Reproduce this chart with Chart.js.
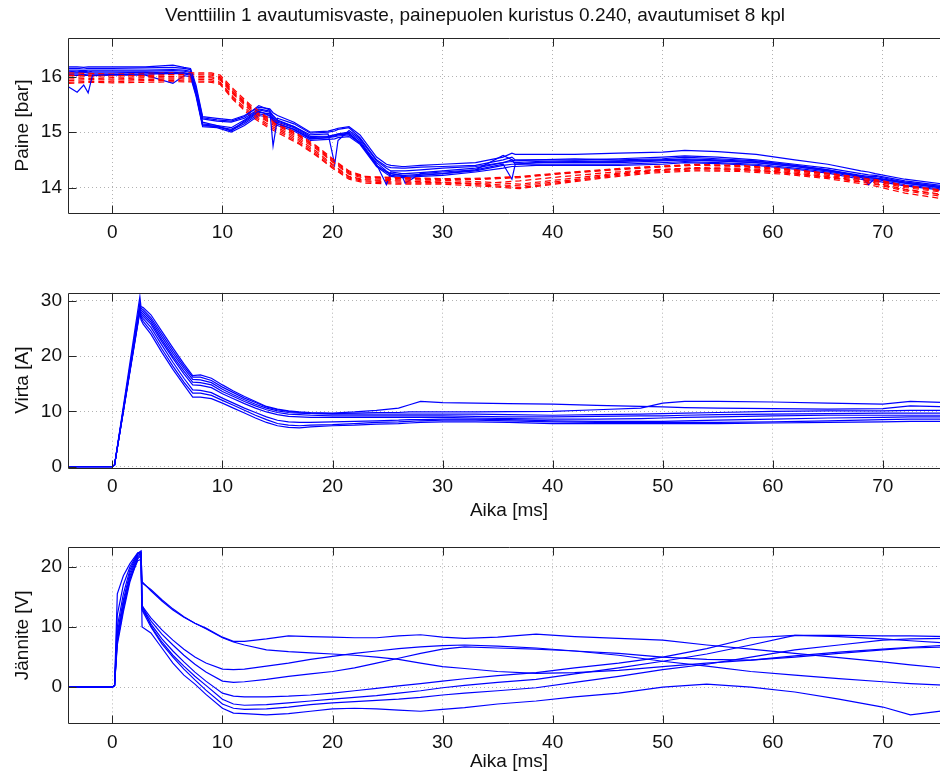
<!DOCTYPE html>
<html>
<head>
<meta charset="utf-8">
<script src="https://cdn.jsdelivr.net/npm/chart.js@4.4.0/dist/chart.umd.min.js"></script>
<style>
  html, body { margin: 0; padding: 0; background: #fff; overflow: hidden; }
  body { width: 940px; height: 775px; position: relative; }
  canvas { position: absolute; left: 0; }
</style>
</head>
<body>
<canvas id="paineChart" width="1020" height="250" style="top:0px"></canvas>
<canvas id="virtaChart" width="1020" height="280" style="top:250px"></canvas>
<canvas id="janniteChart" width="1020" height="245" style="top:530px"></canvas>
<script>
// --- data ---
const xTicks = [0, 10, 20, 30, 40, 50, 60, 70];
const paineTicks = [14, 15, 16];
const virtaTicks = [0, 10, 20, 30];
const janniteTicks = [0, 10, 20];

// Paine, blue runs (solid)
const tPaineBlue = [-4, -3.2, -2.6, -2.2, -1.8, 0, 3, 5.5, 6.5, 7.1,
    7.6, 8.2, 9.5, 10.8, 12, 13.3, 14.3, 14.6, 15, 16.5,
    18, 19.6, 20.2, 20.5, 21.5, 22.5, 24, 24.9, 25.3, 26.3,
    26.6, 28, 30, 33, 35.5, 36.3, 36.6, 38.5, 42, 46,
    50, 52, 55, 58.5, 62, 65, 68, 68.7, 69.3, 72,
    76];
const paineB1 = [15.82, 15.72, 15.85, 15.71, 16.03, 16.04, 16.05, 16.06, 16.07, 16.05,
    15.7, 15.18, 15.12, 15.02, 15.2, 15.38, 15.3, 15.22, 15.15, 15.05,
    14.88, 14.9, 14.95, 14.96, 14.98, 14.8, 14.45, 14.3, 14.25, 14.22,
    14.22, 14.24, 14.25, 14.3, 14.4, 14.42, 14.42, 14.45, 14.47, 14.48,
    14.5, 14.5, 14.48, 14.45, 14.38, 14.3, 14.2, 14.18, 14.17, 14.1,
    14.0];
const paineB2 = [16.18, 16.18, 16.17, 16.18, 16.18, 16.18, 16.18, 16.21, 16.17, 16.15,
    15.85, 15.28, 15.25, 15.22, 15.3, 15.45, 15.42, 15.35, 15.3, 15.18,
    15.0, 15.02, 15.05, 15.07, 15.1, 14.95, 14.55, 14.42, 14.4, 14.38,
    14.38, 14.4, 14.42, 14.45, 14.55, 14.62, 14.6, 14.6, 14.6, 14.62,
    14.64, 14.67, 14.65, 14.6, 14.5, 14.42, 14.3, 14.28, 14.25, 14.15,
    14.05];
const paineB3 = [16.15, 16.15, 16.14, 16.15, 16.15, 16.15, 16.16, 16.17, 16.15, 16.13,
    15.8, 15.26, 15.22, 15.2, 15.28, 15.48, 15.4, 14.75, 15.25, 15.15,
    14.98, 15.0, 15.02, 15.05, 15.08, 14.9, 14.5, 14.38, 14.36, 14.35,
    14.35, 14.37, 14.38, 14.4, 14.5, 14.55, 14.5, 14.5, 14.5, 14.52,
    14.55, 14.57, 14.55, 14.5, 14.42, 14.35, 14.25, 14.23, 14.22, 14.12,
    14.02];
const paineB4 = [16.12, 16.12, 16.11, 16.12, 16.12, 16.12, 16.12, 16.13, 16.12, 16.1,
    15.75, 15.24, 15.2, 15.18, 15.25, 15.42, 15.38, 15.3, 15.22, 15.1,
    14.95, 14.97, 14.42, 14.85, 15.03, 14.88, 14.48, 14.35, 14.3, 14.3,
    14.3, 14.32, 14.35, 14.38, 14.45, 14.5, 14.48, 14.5, 14.52, 14.5,
    14.52, 14.55, 14.52, 14.48, 14.4, 14.32, 14.22, 14.2, 14.2, 14.1,
    14.0];
const paineB5 = [16.1, 16.09, 16.1, 16.09, 16.1, 16.1, 16.1, 16.11, 16.1, 16.08,
    15.72, 15.15, 15.12, 15.08, 15.22, 15.4, 15.36, 15.28, 15.2, 15.1,
    14.92, 14.93, 14.95, 14.97, 15.0, 14.85, 14.42, 14.05, 14.28, 14.25,
    14.25, 14.27, 14.3, 14.35, 14.45, 14.47, 14.45, 14.47, 14.48, 14.47,
    14.5, 14.52, 14.5, 14.47, 14.4, 14.32, 14.2, 14.18, 14.17, 14.08,
    13.98];
const paineB6 = [16.07, 16.07, 16.08, 16.07, 16.07, 16.07, 16.08, 16.08, 16.07, 16.05,
    15.7, 15.13, 15.1, 15.05, 15.18, 15.36, 15.33, 15.25, 15.18, 15.08,
    14.9, 14.92, 14.93, 14.95, 14.97, 14.82, 14.4, 14.28, 14.25, 14.22,
    14.08, 14.25, 14.28, 14.32, 14.42, 14.15, 14.42, 14.45, 14.45, 14.45,
    14.48, 14.5, 14.48, 14.45, 14.38, 14.3, 14.2, 14.05, 14.17, 14.08,
    13.98];
const paineB7 = [16.05, 16.05, 16.04, 16.05, 16.05, 16.05, 16.05, 16.06, 16.05, 16.03,
    15.68, 15.12, 15.1, 15.03, 15.15, 15.33, 15.3, 15.22, 15.15, 15.05,
    14.88, 14.9, 14.92, 14.93, 14.95, 14.8, 14.4, 14.28, 14.22, 14.2,
    14.2, 14.22, 14.25, 14.32, 14.58, 14.5, 14.42, 14.42, 14.42, 14.42,
    14.45, 14.47, 14.45, 14.42, 14.35, 14.28, 14.18, 14.15, 14.15, 14.05,
    13.96];
const paineB8 = [16.02, 16.03, 16.02, 16.03, 16.02, 16.03, 16.03, 15.88, 16.02, 16.0,
    15.65, 15.1, 15.08, 15.0, 15.12, 15.3, 15.27, 15.2, 15.12, 15.02,
    14.85, 14.87, 14.88, 14.9, 14.92, 14.78, 14.38, 14.25, 14.2, 14.18,
    14.18, 14.2, 14.22, 14.28, 14.35, 14.38, 14.38, 14.4, 14.4, 14.4,
    14.42, 14.45, 14.43, 14.4, 14.33, 14.26, 14.15, 14.12, 14.12, 14.03,
    13.94];

// Paine, red runs (dashed)
const tPaineRed = [-4, -2, 0, 3, 6, 9, 9.8, 11, 12.5, 14,
    15.5, 17, 18.5, 20, 21.5, 23, 26, 30, 34, 37,
    41, 45, 49, 53, 57, 61, 65, 69, 72, 76];
const paineR1 = [16.07, 16.06, 16.05, 16.06, 16.07, 16.07, 16.03, 15.78, 15.5, 15.28,
    15.12, 14.95, 14.76, 14.52, 14.3, 14.2, 14.18, 14.16, 14.17, 14.2,
    14.27, 14.33, 14.38, 14.42, 14.4, 14.34, 14.26, 14.16, 14.04, 13.94];
const paineR2 = [16.02, 16.03, 16.02, 16.03, 16.04, 16.03, 15.98, 15.72, 15.45, 15.24,
    15.08, 14.92, 14.72, 14.48, 14.26, 14.18, 14.16, 14.14, 14.15, 14.18,
    14.25, 14.31, 14.36, 14.4, 14.38, 14.32, 14.24, 14.14, 14.02, 13.92];
const paineR3 = [15.99, 16.0, 15.99, 16.0, 16.01, 16.0, 15.96, 15.7, 15.43, 15.22,
    15.06, 14.89, 14.7, 14.46, 14.24, 14.16, 14.14, 14.13, 14.1, 14.06,
    14.15, 14.24, 14.31, 14.36, 14.35, 14.3, 14.22, 14.12, 14.0, 13.9];
const paineR4 = [15.96, 15.97, 15.96, 15.98, 15.98, 15.98, 15.94, 15.68, 15.4, 15.2,
    15.03, 14.86, 14.66, 14.42, 14.2, 14.14, 14.12, 14.1, 14.06, 14.03,
    14.12, 14.22, 14.3, 14.34, 14.33, 14.28, 14.2, 14.1, 13.97, 13.86];
const paineR5 = [15.93, 15.95, 15.94, 15.95, 15.96, 15.95, 15.9, 15.63, 15.36, 15.16,
    15.0, 14.83, 14.63, 14.4, 14.19, 14.12, 14.1, 14.09, 14.04, 14.0,
    14.1, 14.2, 14.28, 14.32, 14.31, 14.26, 14.18, 14.07, 13.94, 13.82];
const paineR6 = [15.9, 15.92, 15.91, 15.93, 15.93, 15.92, 15.88, 15.6, 15.33, 15.13,
    14.97, 14.8, 14.6, 14.37, 14.17, 14.1, 14.08, 14.08, 14.08, 14.12,
    14.2, 14.27, 14.32, 14.35, 14.33, 14.27, 14.19, 14.08, 13.96, 13.85];
const paineR7 = [16.04, 16.02, 16.04, 16.02, 16.05, 16.05, 16.0, 15.75, 15.47, 15.26,
    15.1, 14.93, 14.74, 14.5, 14.28, 14.19, 14.17, 14.15, 14.16, 14.19,
    14.26, 14.32, 14.37, 14.41, 14.39, 14.33, 14.25, 14.15, 14.03, 13.93];
const paineR8 = [15.88, 15.9, 15.89, 15.9, 15.91, 15.9, 15.86, 15.58, 15.3, 15.1,
    14.94, 14.78, 14.58, 14.35, 14.15, 14.08, 14.06, 14.06, 14.02, 13.98,
    14.08, 14.18, 14.26, 14.3, 14.29, 14.24, 14.16, 14.04, 13.9, 13.78];

// Virta
const tVirta = [-4, 0, 0.2, 2.5, 2.6, 2.8, 3.5, 4.5, 5.5, 6.5,
    7.3, 8, 9, 10, 11, 12, 13, 14, 15, 16,
    17, 18, 20, 22, 24, 26, 27, 28, 30, 33,
    36, 40, 44, 48, 50, 52, 55, 60, 65, 70,
    72.5, 76];
const virta1 = [0, 0, 0.3, 30.8, 29.0, 28.8, 27.5, 24.5, 21.5, 18.6,
    16.5, 16.6, 16.0, 14.8, 13.7, 12.7, 11.8, 10.9, 10.4, 10.1,
    9.9, 9.8, 9.7, 9.9, 10.2, 10.6, 11.2, 11.8, 11.6, 11.5,
    11.4, 11.3, 11.1, 10.9, 10.8, 10.7, 10.6, 10.5, 10.4, 10.5,
    11.0, 10.8];
const virta2 = [0, 0, 0.3, 29.6, 28.7, 28.4, 27.0, 24.0, 21.0, 18.2,
    16.2, 16.2, 15.6, 14.4, 13.4, 12.4, 11.6, 10.8, 10.3, 10.0,
    9.8, 9.7, 9.6, 9.7, 9.8, 9.8, 9.9, 9.9, 9.9, 9.9,
    9.95, 10.0, 10.3, 10.6, 11.5, 11.8, 11.8, 11.7, 11.5, 11.3,
    11.8, 11.6];
const virta3 = [0, 0, 0.3, 29.3, 28.4, 28.0, 26.6, 23.5, 20.5, 17.8,
    15.8, 15.7, 15.2, 14.0, 13.0, 12.1, 11.3, 10.6, 10.1, 9.8,
    9.7, 9.6, 9.5, 9.5, 9.5, 9.5, 9.5, 9.5, 9.5, 9.5,
    9.4, 9.3, 9.4, 9.5, 9.6, 9.7, 9.8, 10.0, 10.1, 10.1,
    10.2, 10.2];
const virta4 = [0, 0, 0.3, 29.0, 28.0, 27.6, 26.2, 23.0, 20.0, 17.3,
    15.3, 15.2, 14.8, 13.6, 12.7, 11.8, 11.0, 10.3, 9.8, 9.5,
    9.4, 9.3, 9.2, 9.2, 9.2, 9.2, 9.2, 9.2, 9.2, 9.1,
    9.0, 9.0, 9.1, 9.2, 9.2, 9.3, 9.4, 9.5, 9.6, 9.7,
    9.7, 9.7];
const virta5 = [0, 0, 0.3, 28.7, 27.6, 27.2, 25.8, 22.6, 19.6, 16.8,
    14.8, 14.7, 14.3, 13.2, 12.3, 11.4, 10.6, 9.9, 9.4, 9.1,
    9.0, 8.9, 8.9, 8.9, 8.9, 8.9, 8.9, 8.9, 8.9, 8.8,
    8.7, 8.6, 8.6, 8.7, 8.8, 8.9, 9.0, 9.2, 9.3, 9.3,
    9.3, 9.3];
const virta6 = [0, 0, 0.3, 28.5, 27.3, 26.8, 25.2, 22.0, 18.9, 16.0,
    13.9, 13.8, 13.4, 12.4, 11.5, 10.6, 9.8, 9.0, 8.4, 8.1,
    8.0, 8.0, 8.1, 8.2, 8.3, 8.4, 8.5, 8.5, 8.6, 8.6,
    8.5, 8.3, 8.2, 8.2, 8.2, 8.3, 8.4, 8.6, 8.8, 8.9,
    9.0, 9.0];
const virta7 = [0, 0, 0.3, 28.2, 27.0, 26.3, 24.6, 21.3, 18.2, 15.3,
    13.3, 13.3, 12.9, 12.0, 11.1, 10.2, 9.3, 8.5, 7.8, 7.5,
    7.4, 7.5, 7.6, 7.8, 8.0, 8.1, 8.2, 8.3, 8.4, 8.4,
    8.3, 8.1, 8.0, 8.0, 8.0, 8.0, 8.0, 8.1, 8.3, 8.5,
    8.6, 8.6];
const virta8 = [0, 0, 0.3, 28.0, 26.6, 25.8, 24.0, 20.7, 17.6, 14.8,
    12.6, 12.6, 12.3, 11.5, 10.6, 9.7, 8.8, 8.0, 7.4, 7.1,
    7.0, 7.2, 7.4, 7.5, 7.7, 7.8, 7.9, 8.0, 8.1, 8.1,
    8.0, 7.8, 7.8, 7.8, 7.8, 7.8, 7.8, 7.9, 8.0, 8.1,
    8.2, 8.2];

// Jännite
const tJannite = [-4, 0, 0.2, 0.45, 1, 1.6, 2.3, 2.6, 2.7,
    3.5, 4.5, 5.5, 6.5, 7.5, 8.5, 10, 11, 12, 14, 16, 18, 20, 22, 24, 26, 28, 30, 32,
    35, 38.5, 42, 46, 50, 54, 58, 62, 66, 70, 72.5, 76];
const jannite1 = [0, 0, 0.3, 15.5, 18.5, 20.5, 22.3, 22.4, 17.5,
    16.0, 14.3, 12.8, 11.6, 10.6, 9.8, 8.3, 7.6, 7.6, 8.0, 8.5, 8.4, 8.3, 8.2, 8.2, 8.5, 8.7, 8.3, 8.1,
    8.3, 8.8, 8.4, 8.1, 7.8, 7.0, 6.3, 5.6, 4.9, 4.2, 3.7, 3.1];
const jannite2 = [0, 0, 0.3, 12.0, 17.0, 20.0, 22.2, 22.3, 17.3,
    16.2, 14.5, 13.0, 11.7, 10.6, 9.7, 8.2, 7.5, 7.0, 6.2, 5.9, 5.7, 5.5, 5.3, 5.0, 4.6, 4.0, 3.4, 3.1,
    2.6, 2.3, 2.4, 2.8, 3.4, 4.0, 4.5, 5.2, 5.8, 6.3, 6.6, 7.0];
const jannite3 = [0, 0, 0.3, 8.0, 14.0, 18.5, 21.8, 22.2, 13.5,
    11.5, 9.5, 7.8, 6.3, 5.0, 4.0, 3.0, 2.9, 3.0, 3.5, 4.0, 4.6, 5.1, 5.6, 6.0, 6.4, 6.7, 6.9, 7.0,
    6.8, 6.5, 6.0, 5.3, 4.3, 3.5, 2.6, 2.0, 1.4, 0.9, 0.6, 0.3];
const jannite4 = [0, 0, 0.3, 7.5, 13.0, 18.0, 21.5, 22.0, 13.3,
    11.0, 8.8, 7.0, 5.3, 3.8, 2.5, 1.0, 0.8, 0.9, 1.3, 1.8, 2.2, 2.6, 3.2, 4.0, 4.8, 5.6, 6.3, 6.7,
    6.5, 6.3, 6.0, 5.6, 5.0, 4.6, 4.5, 5.0, 5.6, 6.2, 6.5, 6.7];
const jannite5 = [0, 0, 0.3, 7.0, 12.5, 17.5, 21.3, 21.8, 13.0,
    10.5, 8.0, 6.0, 4.2, 2.5, 1.0, -1.0, -1.5, -1.6, -1.6, -1.5, -1.3, -1.0, -0.6, -0.2, 0.2, 0.6, 1.0, 1.4,
    1.9, 2.4, 3.2, 4.0, 5.0, 6.4, 8.2, 8.6, 8.4, 8.0, 7.7, 7.3];
const jannite6 = [0, 0, 0.3, 9.0, 14.5, 19.0, 22.0, 22.5, 13.6,
    10.2, 7.5, 5.3, 3.5, 1.8, 0.3, -2.0, -2.8, -3.0, -2.9, -2.6, -2.3, -2.0, -1.7, -1.4, -1.0, -0.6, -0.1, 0.3,
    0.8, 1.3, 2.2, 3.2, 4.3, 5.5, 7.0, 8.6, 8.6, 8.5, 8.5, 8.4];
const jannite7 = [0, 0, 0.3, 10.0, 15.5, 19.5, 22.2, 22.6, 12.8,
    10.0, 7.2, 5.0, 3.0, 1.2, -0.5, -2.8, -3.5, -3.7, -3.6, -3.3, -2.9, -2.6, -2.4, -2.2, -2.0, -1.7, -1.3, -1.0,
    -0.6, -0.1, 0.8, 1.8, 2.9, 3.8, 5.0, 6.2, 7.0, 7.8, 8.0, 8.1];
const jannite8 = [0, 0, 0.3, 8.5, 13.5, 18.0, 21.0, 21.2, 10.0,
    9.0, 6.5, 4.0, 2.0, 0.5, -1.2, -3.5, -4.3, -4.4, -4.6, -4.4, -4.0, -3.6, -3.5, -3.6, -3.8, -4.0, -3.7, -3.4,
    -2.8, -2.3, -1.6, -1.0, 0.0, 0.5, 0.0, -0.8, -2.0, -3.3, -4.6, -3.8];

// --- styling ---
const X_MIN = -4.03;
const X_MAX = 76.1;
const BLUE = '#0000ff';
const RED = '#ff0000';
const FONT = { family: '"Liberation Sans", Arial, Helvetica, sans-serif', size: 19 };
const TEXT = '#111';
const AXIS = '#262626';
const GRID = 'rgba(0,0,0,0.3)';

function toPoints(times, values) {
    return times.map((t, i) => ({ x: t, y: values[i] }));
}

function blueLine(times, values) {
    return { data: toPoints(times, values), borderColor: BLUE, borderWidth: 1.2 };
}

function redLine(times, values) {
    return { data: toPoints(times, values), borderColor: RED, borderWidth: 1.2, borderDash: [6, 4] };
}

// MATLAB style box with inward tick marks
const boxPlugin = {
    id: 'matlabBox',
    afterDraw(chart) {
        const { ctx, chartArea: a, scales: { x, y } } = chart;
        const l = Math.round(a.left) + 0.5, r = Math.round(a.right) + 0.5;
        const t = Math.round(a.top) + 0.5, b = Math.round(a.bottom) + 0.5;
        ctx.save();
        ctx.strokeStyle = AXIS;
        ctx.lineWidth = 1;
        ctx.beginPath();
        ctx.rect(l, t, r - l, b - t);
        x.ticks.forEach(tk => {
            const px = Math.round(x.getPixelForValue(tk.value)) + 0.5;
            ctx.moveTo(px, b); ctx.lineTo(px, b - 8);
            ctx.moveTo(px, t); ctx.lineTo(px, t + 8);
        });
        y.ticks.forEach(tk => {
            const py = Math.round(y.getPixelForValue(tk.value)) + 0.5;
            ctx.moveTo(l, py); ctx.lineTo(l + 8, py);
            ctx.moveTo(r, py); ctx.lineTo(r - 8, py);
        });
        ctx.stroke();
        ctx.restore();
    }
};

function makeChart(id, datasets, cfg) {
    return new Chart(document.getElementById(id), {
        type: 'line',
        data: { datasets },
        plugins: [boxPlugin],
        options: {
            responsive: false,
            animation: false,
            devicePixelRatio: 1,
            layout: { padding: { top: cfg.padTop, right: 70, left: 0, bottom: 0 } },
            elements: { point: { radius: 0 }, line: { tension: 0, fill: false } },
            plugins: {
                legend: { display: false },
                tooltip: { enabled: false },
                title: cfg.title ? {
                    display: true,
                    text: cfg.title,
                    color: TEXT,
                    font: { ...FONT, weight: 'normal' },
                    padding: { top: 4.6, bottom: 10.6 }
                } : { display: false }
            },
            scales: {
                x: {
                    type: 'linear',
                    min: X_MIN,
                    max: X_MAX,
                    afterBuildTicks: s => { s.ticks = xTicks.map(v => ({ value: v })); },
                    afterFit: s => { s.height = cfg.xHeight; },
                    ticks: { color: TEXT, font: FONT, padding: 8, maxRotation: 0 },
                    grid: { color: GRID, lineWidth: 1, drawTicks: false },
                    border: { display: false, dash: [1, 3] },
                    title: cfg.xTitle ? {
                        display: true, text: cfg.xTitle, color: TEXT, font: FONT,
                        padding: { top: 0, bottom: cfg.xTitlePad }
                    } : { display: false }
                },
                y: {
                    type: 'linear',
                    min: cfg.yMin,
                    max: cfg.yMax,
                    afterBuildTicks: s => { s.ticks = cfg.yTicks.map(v => ({ value: v })); },
                    afterFit: s => { s.width = 68; },
                    ticks: { color: TEXT, font: FONT, padding: 6 },
                    grid: { color: GRID, lineWidth: 1, drawTicks: false },
                    border: { display: false, dash: [1, 3] },
                    title: {
                        display: true, text: cfg.yTitle, color: TEXT, font: FONT,
                        padding: { top: 11, bottom: 0 }
                    }
                }
            }
        }
    });
}

const paineBlue = [paineB1, paineB2, paineB3, paineB4, paineB5, paineB6, paineB7, paineB8];
const paineRed = [paineR1, paineR2, paineR3, paineR4, paineR5, paineR6, paineR7, paineR8];
const paineSets = [];
paineBlue.forEach((vals, i) => {
    paineSets.push(blueLine(tPaineBlue, vals));
    paineSets.push(redLine(tPaineRed, paineRed[i]));
});

makeChart('paineChart', paineSets, {
    title: 'Venttiilin 1 avautumisvaste, painepuolen kuristus 0.240, avautumiset 8 kpl',
    padTop: 0, xHeight: 37, yMin: 13.54, yMax: 16.7, yTicks: paineTicks, yTitle: 'Paine [bar]'
});

makeChart('virtaChart',
    [virta1, virta2, virta3, virta4, virta5, virta6, virta7, virta8].map(v => blueLine(tVirta, v)),
    { padTop: 42.7, xHeight: 62.3, xTitle: 'Aika [ms]', xTitlePad: 7.6,
      yMin: -0.2, yMax: 31.5, yTicks: virtaTicks, yTitle: 'Virta [A]' });

makeChart('janniteChart',
    [jannite1, jannite2, jannite3, jannite4, jannite5, jannite6, jannite7, jannite8].map(v => blueLine(tJannite, v)),
    { padTop: 17.3, xHeight: 51.7, xTitle: 'Aika [ms]', xTitlePad: 1.6,
      yMin: -6.0, yMax: 23.2, yTicks: janniteTicks, yTitle: 'Jännite [V]' });
</script>
</body>
</html>
